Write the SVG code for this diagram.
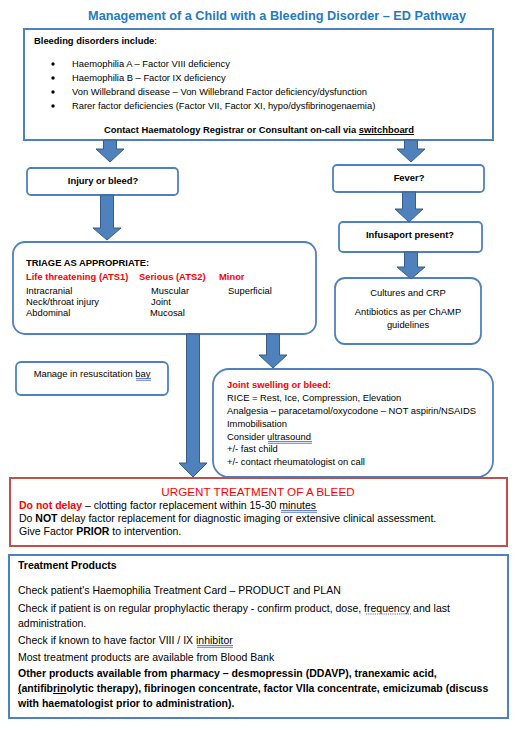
<svg xmlns="http://www.w3.org/2000/svg" width="530" height="731" viewBox="0 0 530 731">
<style>
text { font-family: "Liberation Sans", Arial, sans-serif; fill: #000; }
.box { fill: #fff; stroke: #4f81bd; stroke-width: 1.8; }
.frame { fill: #fff; stroke: #4f81bd; stroke-width: 2; }
.red { fill: #fff; stroke: #c0504d; stroke-width: 2; }
.arrow { fill: #4f81bd; stroke: #385d8a; stroke-width: 1; }
.t9 { font-size: 9.4px; }
.t10 { font-size: 10.5px; }
.b { font-weight: bold; }
.rd { fill: #ff0000; }
.ul { stroke: #3a5fcd; stroke-width: 0.8; }
</style>
<rect width="530" height="731" fill="#fff"/>
<text x="277" y="20" text-anchor="middle" font-size="12.7" font-weight="bold" style="fill:#1f7bc4">Management of a Child with a Bleeding Disorder – ED Pathway</text>

<g id="disorders">
<rect class="frame" x="24" y="29" width="469" height="111"/>
<text class="t9 b" x="34" y="44">Bleeding disorders include<tspan font-weight="normal">:</tspan></text>
<circle cx="53" cy="64" r="1.7"/><circle cx="53" cy="78" r="1.7"/><circle cx="53" cy="92" r="1.7"/><circle cx="53" cy="106" r="1.7"/>
<text class="t9" x="72" y="67">Haemophilia A – Factor VIII deficiency</text>
<text class="t9" x="72" y="81">Haemophilia B – Factor IX deficiency</text>
<text class="t9" x="72" y="95">Von Willebrand disease – Von Willebrand Factor deficiency/dysfunction</text>
<text class="t9" x="72" y="109">Rarer factor deficiencies (Factor VII, Factor XI, hypo/dysfibrinogenaemia)</text>
<text class="t9 b" x="259" y="133" text-anchor="middle">Contact Haematology Registrar or Consultant on-call via <tspan text-decoration="underline">switchboard</tspan></text>
</g>

<g id="injury">
<rect class="box" x="27" y="168" width="151" height="27" rx="4"/>
<text class="t9 b" x="103" y="184" text-anchor="middle">Injury or bleed?</text>
</g>

<g id="fever">
<rect class="box" x="333" y="165" width="151" height="27" rx="4"/>
<text class="t9 b" x="409" y="181" text-anchor="middle">Fever?</text>
</g>

<g id="infusaport">
<rect class="box" x="339" y="222" width="143" height="30" rx="4"/>
<text class="t9 b" x="410" y="238" text-anchor="middle">Infusaport present?</text>
</g>

<g id="cultures">
<rect class="box" x="335" y="278" width="146" height="66" rx="10"/>
<text class="t9" x="408" y="296" text-anchor="middle">Cultures and CRP</text>
<text class="t9" x="408" y="315" text-anchor="middle">Antibiotics as per ChAMP</text>
<text class="t9" x="408" y="328" text-anchor="middle">guidelines</text>
</g>

<g id="triage">
<rect class="box" x="13" y="242" width="303" height="92" rx="12"/>
<text class="t9 b" x="26" y="266">TRIAGE AS APPROPRIATE:</text>
<text class="t9 b rd" x="26" y="280">Life threatening (ATS1)</text>
<text class="t9 b rd" x="139" y="280">Serious (ATS2)</text>
<text class="t9 b rd" x="219" y="280">Minor</text>
<text class="t9" x="26" y="294">Intracranial</text>
<text class="t9" x="26" y="305">Neck/throat injury</text>
<text class="t9" x="26" y="316">Abdominal</text>
<text class="t9" x="151" y="294">Muscular</text>
<text class="t9" x="151" y="305">Joint</text>
<text class="t9" x="150" y="316">Mucosal</text>
<text class="t9" x="228" y="294">Superficial</text>
</g>

<g id="resus">
<rect class="box" x="16" y="362" width="152" height="33" rx="5"/>
<text class="t9" x="92" y="377" text-anchor="middle">Manage in resuscitation bay</text>
<line class="ul" x1="136" y1="378.5" x2="151" y2="378.5"/>
<line class="ul" x1="136" y1="380.3" x2="151" y2="380.3"/>
</g>

<g id="joint">
<rect class="box" x="213" y="369" width="280" height="108" rx="16"/>
<text class="t9 b rd" x="227" y="388">Joint swelling or bleed:</text>
<text class="t9" x="227" y="401">RICE = Rest, Ice, Compression, Elevation</text>
<text class="t9" x="227" y="414">Analgesia – paracetamol/oxycodone – NOT aspirin/NSAIDS</text>
<text class="t9" x="227" y="427">Immobilisation</text>
<text class="t9" x="227" y="440">Consider ultrasound</text>
<line class="ul" x1="268" y1="441.5" x2="312" y2="441.5"/>
<line class="ul" x1="268" y1="443.3" x2="312" y2="443.3"/>
<text class="t9" x="227" y="452">+/- fast child</text>
<text class="t9" x="227" y="465">+/- contact rheumatologist on call</text>
</g>

<g id="urgent">
<rect class="red" x="10" y="478" width="497" height="68"/>
<text x="258" y="496" text-anchor="middle" font-size="11.7" class="rd">URGENT TREATMENT OF A BLEED</text>
<text class="t10" x="19" y="509"><tspan class="b rd">Do not delay</tspan> – clotting factor replacement within 15-30 minutes</text>
<line class="ul" x1="281" y1="510.5" x2="317" y2="510.5"/>
<line class="ul" x1="281" y1="512.3" x2="317" y2="512.3"/>
<text class="t10" x="19" y="522">Do <tspan class="b">NOT</tspan> delay factor replacement for diagnostic imaging or extensive clinical assessment.</text>
<text class="t10" x="19" y="535">Give Factor <tspan class="b">PRIOR</tspan> to intervention.</text>
</g>

<g id="products">
<rect class="frame" x="9" y="555" width="499" height="163"/>
<text class="t10 b" x="18" y="569">Treatment Products</text>
<text class="t10" x="18" y="594">Check patient's Haemophilia Treatment Card – PRODUCT and PLAN</text>
<text class="t10" x="18" y="612">Check if patient is on regular prophylactic therapy - confirm product, dose, frequency and last</text>
<line x1="366" y1="614" x2="411" y2="614" stroke="#5b4fd0" stroke-width="0.9" stroke-dasharray="1.2,1"/>
<text class="t10" x="18" y="627">administration.</text>
<text class="t10" x="18" y="644">Check if known to have factor VIII / IX inhibitor</text>
<line class="ul" x1="197" y1="645.5" x2="233" y2="645.5"/>
<line class="ul" x1="197" y1="647.3" x2="233" y2="647.3"/>
<text class="t10" x="18" y="661">Most treatment products are available from Blood Bank</text>
<text class="t10 b" x="18" y="677">Other products available from pharmacy – desmopressin (DDAVP), tranexamic acid,</text>
<text class="t10 b" x="18" y="692"><tspan text-decoration="underline">(</tspan>antifib<tspan text-decoration="underline">rin</tspan>olytic therapy), fibrinogen concentrate, factor VIIa concentrate, emicizumab (discuss</text>
<text class="t10 b" x="18" y="707">with haematologist prior to administration).</text>
</g>

<g id="connectors">
<path class="arrow" d="M103.5,140 H116.5 V149 H124 L110,162 L96,149 H103.5 Z"/>
<path class="arrow" d="M404.5,140 H417.5 V149 H425 L411,162 L397,149 H404.5 Z"/>
<path class="arrow" d="M100.5,195 H113.5 V228 H121 L107,240 L93,228 H100.5 Z"/>
<path class="arrow" d="M402.5,192 H415.5 V209 H423 L409,222 L395,209 H402.5 Z"/>
<path class="arrow" d="M404.5,252 H417.5 V267 H425 L411,279 L397,267 H404.5 Z"/>
<path class="arrow" d="M186.5,334 H199.5 V463 H207 L193,477 L179,463 H186.5 Z"/>
<path class="arrow" d="M266.5,334 H279.5 V355 H287 L273,368 L259,355 H266.5 Z"/>
</g>
</svg>
